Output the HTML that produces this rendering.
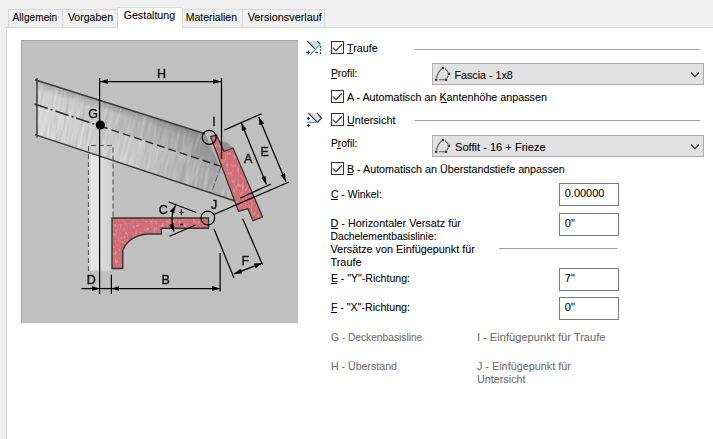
<!DOCTYPE html>
<html><head><meta charset="utf-8">
<style>
html,body{margin:0;padding:0;width:713px;height:439px;overflow:hidden;background:#f0f0f0;}
svg{position:absolute;left:0;top:0;display:block;}
text{font-family:"Liberation Sans",sans-serif;font-size:11px;fill:#000;stroke:#000;stroke-width:0.08px;}
.g{stroke:#6d6d6d;}
.g{fill:#6d6d6d;}
.lbl{font-size:12.5px;fill:#111;stroke:#111;stroke-width:0.4px;}
</style></head><body>
<svg width="713" height="439" viewBox="0 0 713 439">
<defs>
  <linearGradient id="raf" x1="37" y1="0" x2="235" y2="0" gradientUnits="userSpaceOnUse">
    <stop offset="0" stop-color="#d4d5d4"/>
    <stop offset="0.5" stop-color="#c8c8c8"/>
    <stop offset="1" stop-color="#b4b4b4"/>
  </linearGradient>
  <linearGradient id="rafTop" x1="37" y1="0" x2="221" y2="0" gradientUnits="userSpaceOnUse">
    <stop offset="0" stop-color="#606060" stop-opacity="0"/>
    <stop offset="0.4" stop-color="#606060" stop-opacity="0.1"/>
    <stop offset="0.8" stop-color="#606060" stop-opacity="0.3"/>
    <stop offset="1" stop-color="#5a5a5a" stop-opacity="0.4"/>
  </linearGradient>
  <linearGradient id="rafEdge" x1="120" y1="105.9" x2="117" y2="115.5" gradientUnits="userSpaceOnUse">
    <stop offset="0" stop-color="#505050" stop-opacity="0.35"/>
    <stop offset="1" stop-color="#505050" stop-opacity="0"/>
  </linearGradient>
  <linearGradient id="rafBot" x1="37" y1="0" x2="221" y2="0" gradientUnits="userSpaceOnUse">
    <stop offset="0" stop-color="#ffffff" stop-opacity="0.1"/>
    <stop offset="0.55" stop-color="#808080" stop-opacity="0"/>
    <stop offset="1" stop-color="#707070" stop-opacity="0.3"/>
  </linearGradient>
  <filter id="hatch" x="0" y="0" width="1" height="1" filterUnits="objectBoundingBox">
    <feTurbulence type="fractalNoise" baseFrequency="0.03 0.35" numOctaves="2" seed="7"/>
    <feColorMatrix type="matrix" values="0 0 0 0 0.25  0 0 0 0 0.25  0 0 0 0 0.25  2.2 0 0 0 -1.05"/>
  </filter>
  <filter id="hatchL" x="0" y="0" width="1" height="1" filterUnits="objectBoundingBox">
    <feTurbulence type="fractalNoise" baseFrequency="0.04 0.3" numOctaves="2" seed="11"/>
    <feColorMatrix type="matrix" values="0 0 0 0 1  0 0 0 0 1  0 0 0 0 1  2.2 0 0 0 -1.0"/>
  </filter>
  <clipPath id="rafClip"><polygon points="37,80.3 205,133.8 235,201 37,135.2"/></clipPath>
  <clipPath id="postClip"><rect x="88.5" y="150" width="24.5" height="121"/></clipPath>
  <filter id="gray"><feColorMatrix type="saturate" values="0"/></filter>
  <filter id="speck" x="-0.1" y="-0.1" width="1.2" height="1.2">
    <feTurbulence type="fractalNoise" baseFrequency="0.45 0.25" numOctaves="2" seed="5" result="n"/>
    <feColorMatrix in="n" type="matrix" values="0 0 0 0 1  0 0 0 0 0.85  0 0 0 0 0.87  0.9 0 0 0 -0.47" result="w"/>
    <feComposite in="w" in2="SourceGraphic" operator="atop" result="wm"/>
    <feMerge><feMergeNode in="SourceGraphic"/><feMergeNode in="wm"/></feMerge>
  </filter>
  <linearGradient id="postG" x1="88" y1="0" x2="113" y2="0" gradientUnits="userSpaceOnUse">
    <stop offset="0" stop-color="#d6d6d6"/>
    <stop offset="0.15" stop-color="#e4e5e4"/>
    <stop offset="0.45" stop-color="#e2e2e2"/>
    <stop offset="0.55" stop-color="#dcdcdc"/>
    <stop offset="1" stop-color="#cdcdcd"/>
  </linearGradient>
  <marker id="ar" viewBox="0 0 8 5.4" refX="8" refY="2.7" markerWidth="8" markerHeight="5.4" markerUnits="userSpaceOnUse" orient="auto-start-reverse">
    <path d="M0,0.2 L8,2.7 L0,5.2 z" fill="#000"/>
  </marker>
  <linearGradient id="ico" x1="0" y1="0" x2="1" y2="1">
    <stop offset="0" stop-color="#c4c8d0"/>
    <stop offset="1" stop-color="#f4f5f7"/>
  </linearGradient>
</defs>
<!-- tab panel -->
<rect x="6" y="27" width="707" height="412" fill="#ffffff"/>
<rect x="6" y="27" width="1" height="412" fill="#d9d9d9"/>
<rect x="6" y="27" width="707" height="1" fill="#d9d9d9"/>
<!-- unselected tabs -->
<g fill="#f0f0f0" stroke="#d9d9d9" stroke-width="1">
  <rect x="8.5" y="9.5" width="54" height="18"/>
  <rect x="62.5" y="9.5" width="55" height="18"/>
  <rect x="182.5" y="9.5" width="60" height="18"/>
  <rect x="242.5" y="9.5" width="82" height="18"/>
</g>
<!-- selected tab -->
<rect x="118" y="8" width="64" height="20" fill="#fff"/>
<path d="M117.5,28 V7.5 H182.5 V28" fill="none" stroke="#d9d9d9"/>
<text x="12.6" y="21" textLength="44.6" lengthAdjust="spacingAndGlyphs">Allgemein</text>
<text x="67.9" y="21" textLength="45.2" lengthAdjust="spacingAndGlyphs">Vorgaben</text>
<text x="123.7" y="19" textLength="51.4" lengthAdjust="spacingAndGlyphs">Gestaltung</text>
<text x="185.7" y="21" textLength="51.3" lengthAdjust="spacingAndGlyphs">Materialien</text>
<text x="247.7" y="21" textLength="74.1" lengthAdjust="spacingAndGlyphs">Versionsverlauf</text>

<!-- ===== illustration ===== -->
<g id="illus">
  <rect x="21" y="40" width="277" height="283" fill="#c0c0c0"/>
  <rect x="21" y="40" width="277" height="1" fill="#a4a4a4"/>
  <rect x="21" y="40" width="1" height="283" fill="#a4a4a4"/>
  <!-- post fill -->
  <rect x="88.5" y="145.5" width="24.5" height="125" fill="url(#postG)"/>
  <!-- rafter -->
  <polygon points="37,80.3 205,133.8 235,201 37,135.2" fill="url(#raf)"/>
  <polygon points="37,80.3 205,133.8 221,166.4 37,104" fill="url(#rafTop)"/>
  <polygon points="37,80.3 205,133.8 210,143 37,92" fill="url(#rafEdge)"/>
  <polygon points="221,166.4 205,133.8 235,201 211,193.7" fill="#b2b2b2"/>
  <polygon points="37,104 221,166.4 211,193.7 37,135.2" fill="url(#rafBot)"/>
  <g clip-path="url(#rafClip)">
    <g transform="rotate(-80 135 140)"><rect x="20" y="20" width="240" height="240" filter="url(#hatch)" opacity="0.4"/></g>
    <g transform="rotate(-76 135 140)"><rect x="20" y="20" width="240" height="240" filter="url(#hatchL)" opacity="0.35"/></g>
  </g>
  <path d="M35,79.7 L205,133.8 M35,134.6 L235,201 M37,78 V137.5" fill="none" stroke="#3c3c3c" stroke-width="1.5"/>
  <line x1="34.5" y1="104" x2="100" y2="126" stroke="#2a2a2a" stroke-width="1.5" stroke-dasharray="14 3 2 3"/>
  <line x1="100" y1="126" x2="221" y2="166.4" stroke="#2a2a2a" stroke-width="1.4" stroke-dasharray="8 4"/>
  <line x1="221" y1="166.4" x2="211" y2="193.7" stroke="#606060" stroke-width="1" stroke-dasharray="7 2"/>
  <!-- post outline -->
  <path d="M88.5,271 V145.5 H113 V217" fill="none" stroke="#555" stroke-width="1.1" stroke-dasharray="5 3"/>
  <!-- soffit -->
  <path filter="url(#speck)" d="M112,218 H208.5 V228.3 H161.3 V234 H148 C136,235 127,240 122.8,250 V268.5 H112 Z" fill="#d06c76"/>
  <path d="M112,218 H208.5 V228.3 H161.3 V234 H148 C136,235 127,240 122.8,250 V268.5 H112 Z" fill="none" stroke="#353535" stroke-width="1.4"/>
  <!-- fascia -->
  <polygon points="220,141 227,142.5 233,148 224,151.5" fill="#8e8e8e"/>
  <polygon filter="url(#speck)" points="210.5,136.6 216.5,135 224,151.5 233,148 262.5,216.8 253,220.8 247.8,208.6 238.6,211.4" fill="#d06c76"/>
  <polygon points="210.5,136.6 216.5,135 224,151.5 233,148 262.5,216.8 253,220.8 247.8,208.6 238.6,211.4" fill="none" stroke="#353535" stroke-width="1.3" stroke-linejoin="round"/>
  <!-- dimension lines -->
  <g stroke="#000" stroke-width="1.25" fill="none">
    <line x1="99.6" y1="78" x2="99.6" y2="294"/>
    <line x1="221.5" y1="78" x2="221.5" y2="159"/>
    <line x1="100" y1="81.5" x2="221" y2="81.5" marker-start="url(#ar)" marker-end="url(#ar)"/>
    <circle cx="209.2" cy="137.3" r="7"/>
    <circle cx="207.8" cy="218" r="6.9"/>
    <!-- A/E extension -->
    <line x1="224.3" y1="130.1" x2="261.6" y2="113.7"/>
    <line x1="240" y1="198.2" x2="271" y2="184"/>
    <line x1="214" y1="214.5" x2="289" y2="182"/>
    <line x1="241.3" y1="122.8" x2="266.4" y2="184.3" marker-start="url(#ar)" marker-end="url(#ar)"/>
    <line x1="258.7" y1="117" x2="285.8" y2="181.4" marker-start="url(#ar)" marker-end="url(#ar)"/>
    <!-- C -->
    <line x1="168.8" y1="202" x2="196.3" y2="212.5"/>
    <line x1="169.5" y1="236.3" x2="195.6" y2="225"/>
    <path d="M175.5,205.5 Q169,218 174,231.5" marker-start="url(#ar)" marker-end="url(#ar)"/>
    <!-- F -->
    <line x1="213.9" y1="228.8" x2="233.9" y2="277.7"/>
    <line x1="242.7" y1="218.8" x2="262.7" y2="265.1"/>
    <line x1="233.9" y1="273.9" x2="262.2" y2="263.1" marker-start="url(#ar)" marker-end="url(#ar)"/>
    <!-- B/D -->
    <line x1="220.1" y1="253" x2="220.1" y2="291.4"/>
    <line x1="111.4" y1="274.7" x2="111.4" y2="294"/>
    <line x1="81.4" y1="288.6" x2="99.6" y2="288.6" marker-end="url(#ar)" stroke-width="1.3"/>
    <line x1="99.6" y1="288.6" x2="111.4" y2="288.6" stroke-width="1.3"/>
    <line x1="111.4" y1="288.6" x2="220" y2="288.6" marker-start="url(#ar)" marker-end="url(#ar)" stroke-width="1.3"/>
  </g>
  <circle cx="100.3" cy="125" r="4.6" fill="#000"/>
  <g filter="url(#gray)">
    <text class="lbl" x="88.2" y="117.5">G</text>
    <text class="lbl" x="157" y="77.6">H</text>
    <text class="lbl" x="212.2" y="126.3">I</text>
    <text class="lbl" x="244" y="163.3">A</text>
    <text class="lbl" x="260.6" y="156.4">E</text>
    <text class="lbl" x="211" y="209">J</text>
    <text class="lbl" x="158.8" y="214.3">C</text>
    <text class="lbl" x="241.4" y="265">F</text>
    <text class="lbl" x="86.8" y="283.5">D</text>
    <text class="lbl" x="161.5" y="283.5">B</text>
    <text class="lbl" x="178.5" y="216.2" style="font-size:10px">+</text>
    <text class="lbl" x="180" y="226.5" style="font-size:10px">-</text>
  </g>
</g>

<!-- ===== right form ===== -->
<!-- icon 1 -->
<g>
  <polygon points="307.2,41.2 317.4,41.2 320,43.8 314.7,48.7" fill="url(#ico)"/>
  <line x1="307.2" y1="41.2" x2="314.7" y2="48.7" stroke="#333" stroke-width="1.2"/>
  <line x1="317.4" y1="41.2" x2="320" y2="43.8" stroke="#333" stroke-width="1.2"/>
  <line x1="320.4" y1="44.2" x2="310.4" y2="54.4" stroke="#3399ff" stroke-width="1.2"/>
  <line x1="320.5" y1="46" x2="320.5" y2="54.5" stroke="#1060b0" stroke-width="1.2" stroke-dasharray="2 1"/>
  <path d="M306.3,52.4 h4 M308.3,50.4 v4" stroke="#333" stroke-width="1.1"/>
  <line x1="315.2" y1="52.4" x2="318" y2="52.4" stroke="#333" stroke-width="1.2"/>
</g>
<!-- icon 2 -->
<g>
  <polygon points="308.3,113.2 317.2,113.2 321.5,118 317.4,122.3" fill="url(#ico)"/>
  <polyline points="308.3,113.2 317.4,122.3 321.5,118 317.2,113.2" fill="none" stroke="#333" stroke-width="1.2"/>
  <line x1="307.2" y1="122.3" x2="317.4" y2="122.3" stroke="#3399ff" stroke-width="1.3"/>
  <path d="M306.9,118.4 h3 M308.4,116.9 v3 M306.9,125.5 h3 M308.4,124 v3" stroke="#333" stroke-width="1.2"/>
</g>
<!-- checkboxes -->
<g fill="#fff" stroke="#333" stroke-width="1">
  <rect x="331.5" y="41.5" width="12" height="12"/>
  <rect x="331.5" y="90.5" width="12" height="12"/>
  <rect x="331.5" y="113.5" width="12" height="12"/>
  <rect x="331.5" y="162.5" width="12" height="12"/>
</g>
<g fill="none" stroke="#333" stroke-width="1.2">
  <polyline points="332.8,47.6 336,50.6 341.9,44.4"/>
  <polyline points="332.8,96.6 336,99.6 341.9,93.4"/>
  <polyline points="332.8,119.6 336,122.6 341.9,116.4"/>
  <polyline points="332.8,168.6 336,171.6 341.9,165.4"/>
</g>
<!-- separator lines -->
<g fill="#a0a0a0">
  <rect x="415" y="49" width="285" height="1"/>
  <rect x="415" y="120" width="285" height="1"/>
  <rect x="499" y="248" width="118.5" height="1"/>
</g>
<!-- dropdowns -->
<g fill="#e1e1e1" stroke="#adadad" stroke-width="1">
  <rect x="432.5" y="63.5" width="271" height="21"/>
  <rect x="432.5" y="135.5" width="271" height="21"/>
</g>
<g fill="none" stroke="#333" stroke-width="1.2">
  <polyline points="691,72.6 695,76.6 699,72.6"/>
  <polyline points="691,144.6 695,148.6 699,144.6"/>
</g>
<!-- profile icons -->
<g transform="translate(0,0)">
  <path d="M436.6,78 Q437.8,72 441.5,69 M439,79.8 H444.5 M444.8,68.6 Q447,70 448,72.2 M448.3,75.6 L447,78" fill="none" stroke="#555" stroke-width="1.1"/>
  <g fill="#333"><rect x="435" y="78.6" width="2.3" height="2.3"/><rect x="444.8" y="78.6" width="2.3" height="2.3"/><rect x="447.8" y="72.7" width="2.3" height="2.3"/><rect x="441.8" y="66.8" width="2.3" height="2.3"/></g>
</g>
<g transform="translate(0,72)">
  <path d="M436.6,78 Q437.8,72 441.5,69 M439,79.8 H444.5 M444.8,68.6 Q447,70 448,72.2 M448.3,75.6 L447,78" fill="none" stroke="#555" stroke-width="1.1"/>
  <g fill="#333"><rect x="435" y="78.6" width="2.3" height="2.3"/><rect x="444.8" y="78.6" width="2.3" height="2.3"/><rect x="447.8" y="72.7" width="2.3" height="2.3"/><rect x="441.8" y="66.8" width="2.3" height="2.3"/></g>
</g>
<!-- textboxes -->
<g fill="#fff" stroke="#7a7a7a" stroke-width="1">
  <rect x="559.5" y="183.5" width="59" height="22"/>
  <rect x="559.5" y="213.5" width="59" height="22"/>
  <rect x="559.5" y="268.5" width="59" height="22"/>
  <rect x="559.5" y="297.5" width="59" height="22"/>
</g>
<!-- texts -->
<text x="347.1" y="52.2" textLength="30.6" lengthAdjust="spacingAndGlyphs">Traufe</text>
<text x="330.9" y="77.2" textLength="26.5" lengthAdjust="spacingAndGlyphs">Profil:</text>
<text x="454.5" y="79" textLength="58.2" lengthAdjust="spacingAndGlyphs">Fascia - 1x8</text>
<text x="346.9" y="100.8" textLength="200" lengthAdjust="spacingAndGlyphs">A - Automatisch an Kantenhöhe anpassen</text>
<text x="346.9" y="124.2" textLength="48.5" lengthAdjust="spacingAndGlyphs">Untersicht</text>
<text x="330.9" y="146.8" textLength="26.5" lengthAdjust="spacingAndGlyphs">Profil:</text>
<text x="455" y="151" textLength="90.7" lengthAdjust="spacingAndGlyphs">Soffit - 16 + Frieze</text>
<text x="346.9" y="173" textLength="217.8" lengthAdjust="spacingAndGlyphs">B - Automatisch an Überstandstiefe anpassen</text>
<text x="330.9" y="198" textLength="50.9" lengthAdjust="spacingAndGlyphs">C - Winkel:</text>
<text x="330.5" y="226.8" textLength="130.3" lengthAdjust="spacingAndGlyphs">D - Horizontaler Versatz für</text>
<text x="330.5" y="239.8" textLength="106" lengthAdjust="spacingAndGlyphs">Dachelementbasislinie:</text>
<text x="330.5" y="252.6" textLength="144.4" lengthAdjust="spacingAndGlyphs">Versätze von Einfügepunkt für</text>
<text x="330.5" y="266" textLength="31" lengthAdjust="spacingAndGlyphs">Traufe</text>
<text x="330.9" y="281.8" textLength="79.1" lengthAdjust="spacingAndGlyphs">E - "Y"-Richtung:</text>
<text x="330.9" y="310.8" textLength="79.1" lengthAdjust="spacingAndGlyphs">F - "X"-Richtung:</text>
<text x="564.8" y="197" textLength="39.5" lengthAdjust="spacingAndGlyphs">0.00000</text>
<text x="564.8" y="226.8">0"</text>
<text x="564.8" y="281.8">7"</text>
<text x="564.8" y="310.8">0"</text>
<text class="g" x="330.9" y="341" textLength="91.4" lengthAdjust="spacingAndGlyphs">G - Deckenbasisline</text>
<text class="g" x="330.9" y="369.6" textLength="66.1" lengthAdjust="spacingAndGlyphs">H - Überstand</text>
<text class="g" x="476.9" y="341" textLength="128.6" lengthAdjust="spacingAndGlyphs">I - Einfügepunkt für Traufe</text>
<text class="g" x="476.9" y="370.2" textLength="94.1" lengthAdjust="spacingAndGlyphs">J - Einfügepunkt für</text>
<text class="g" x="476.9" y="382.9" textLength="48.7" lengthAdjust="spacingAndGlyphs">Untersicht</text>
<!-- mnemonic underlines -->
<g fill="#000">
  <rect x="347" y="53" width="6" height="1"/>
  <rect x="331" y="78" width="6" height="1"/>
  <rect x="441" y="102" width="6" height="1"/>
  <rect x="347" y="125" width="7" height="1"/>
  <rect x="337" y="148" width="4" height="1"/>
  <rect x="347" y="174" width="6" height="1"/>
  <rect x="331" y="199" width="7" height="1"/>
  <rect x="331" y="228" width="7" height="1"/>
  <rect x="331" y="283" width="6" height="1"/>
  <rect x="331" y="312" width="6" height="1"/>
</g>
</svg>
</body></html>
